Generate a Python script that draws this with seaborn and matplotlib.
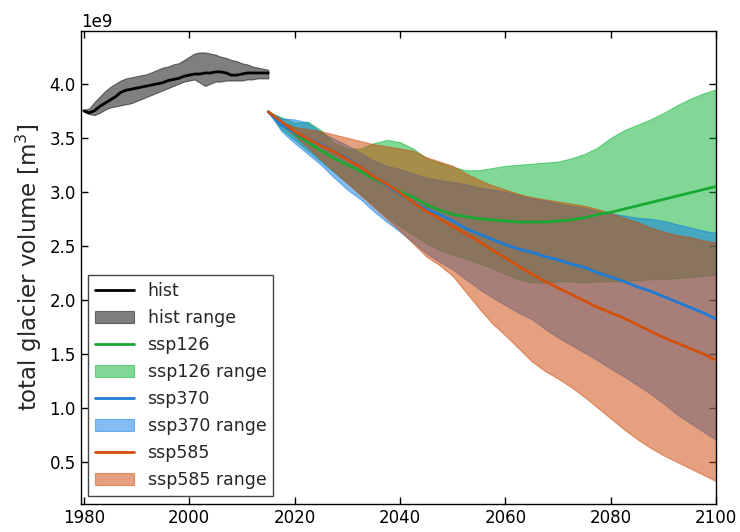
import numpy as np
import pandas as pd
import matplotlib
matplotlib.use("Agg")
import matplotlib.pyplot as plt
import seaborn as sns

# ---------------- data (values in 1e9 m^3) ----------------
hist_years = list(range(1980, 2016))
hist_mean = [3.75, 3.73, 3.75, 3.79, 3.82, 3.85, 3.88, 3.92, 3.94, 3.95, 3.96, 3.97,
             3.98, 3.99, 4.00, 4.01, 4.03, 4.04, 4.05, 4.07, 4.08, 4.09, 4.09, 4.10,
             4.10, 4.11, 4.11, 4.10, 4.08, 4.08, 4.09, 4.10, 4.10, 4.10, 4.10, 4.10]
hist_upper = [3.76, 3.77, 3.83, 3.88, 3.93, 3.97, 4.00, 4.03, 4.05, 4.06, 4.07, 4.08,
              4.09, 4.11, 4.13, 4.15, 4.16, 4.18, 4.19, 4.22, 4.25, 4.28, 4.29, 4.29,
              4.28, 4.27, 4.25, 4.24, 4.22, 4.21, 4.19, 4.18, 4.16, 4.15, 4.14, 4.13]
hist_lower = [3.74, 3.72, 3.71, 3.73, 3.76, 3.78, 3.79, 3.80, 3.81, 3.82, 3.84, 3.86,
              3.88, 3.90, 3.92, 3.94, 3.96, 3.98, 4.00, 4.02, 4.03, 4.04, 4.01, 3.98,
              4.00, 4.02, 4.02, 4.03, 4.03, 4.03, 4.03, 4.04, 4.04, 4.05, 4.05, 4.05]

proj_years = [2015, 2017.5, 2020, 2022.5, 2025, 2027.5, 2030, 2032.5, 2035, 2037.5,
              2040, 2042.5, 2045, 2047.5, 2050, 2052.5, 2055, 2057.5, 2060, 2062.5,
              2065, 2067.5, 2070, 2072.5, 2075, 2077.5, 2080, 2082.5, 2085, 2087.5,
              2090, 2092.5, 2095, 2097.5, 2100]

ssp126_mean = [3.74, 3.64, 3.54, 3.46, 3.38, 3.31, 3.25, 3.19, 3.12, 3.06,
               3.00, 2.95, 2.88, 2.83, 2.79, 2.77, 2.75, 2.74, 2.73, 2.72,
               2.72, 2.72, 2.73, 2.74, 2.76, 2.79, 2.81, 2.84, 2.87, 2.90,
               2.93, 2.96, 2.99, 3.02, 3.05]
ssp126_upper = [3.74, 3.69, 3.64, 3.65, 3.57, 3.45, 3.40, 3.40, 3.45, 3.48,
                3.46, 3.40, 3.31, 3.27, 3.23, 3.20, 3.20, 3.22, 3.24, 3.25,
                3.26, 3.27, 3.28, 3.31, 3.35, 3.41, 3.50, 3.57, 3.62, 3.67,
                3.73, 3.80, 3.86, 3.91, 3.95]
ssp126_lower = [3.74, 3.58, 3.48, 3.38, 3.28, 3.18, 3.08, 2.98, 2.88, 2.77,
                2.68, 2.60, 2.52, 2.46, 2.42, 2.38, 2.34, 2.29, 2.24, 2.19,
                2.16, 2.16, 2.17, 2.17, 2.16, 2.17, 2.17, 2.18, 2.18, 2.19,
                2.19, 2.20, 2.21, 2.22, 2.23]

ssp370_mean = [3.74, 3.62, 3.55, 3.49, 3.44, 3.37, 3.31, 3.23, 3.14, 3.06,
               2.98, 2.90, 2.84, 2.79, 2.73, 2.66, 2.61, 2.56, 2.51, 2.47,
               2.44, 2.40, 2.37, 2.33, 2.30, 2.25, 2.21, 2.17, 2.12, 2.08,
               2.03, 1.98, 1.93, 1.88, 1.82]
ssp370_upper = [3.74, 3.68, 3.67, 3.64, 3.55, 3.49, 3.43, 3.36, 3.29, 3.24,
                3.21, 3.17, 3.13, 3.11, 3.09, 3.07, 3.04, 3.02, 3.00, 2.97,
                2.94, 2.92, 2.89, 2.87, 2.85, 2.82, 2.80, 2.78, 2.76, 2.75,
                2.73, 2.70, 2.67, 2.64, 2.62]
ssp370_lower = [3.74, 3.56, 3.45, 3.35, 3.25, 3.13, 3.02, 2.93, 2.82, 2.72,
                2.63, 2.53, 2.43, 2.35, 2.28, 2.19, 2.10, 2.02, 1.95, 1.88,
                1.82, 1.73, 1.65, 1.58, 1.51, 1.44, 1.36, 1.29, 1.21, 1.13,
                1.04, 0.94, 0.86, 0.78, 0.70]

ssp585_mean = [3.74, 3.65, 3.56, 3.49, 3.43, 3.37, 3.30, 3.23, 3.14, 3.07,
               2.99, 2.90, 2.82, 2.75, 2.68, 2.61, 2.54, 2.46, 2.39, 2.31,
               2.24, 2.17, 2.11, 2.05, 1.99, 1.93, 1.88, 1.83, 1.77, 1.71,
               1.65, 1.60, 1.55, 1.50, 1.44]
ssp585_upper = [3.74, 3.65, 3.60, 3.58, 3.56, 3.53, 3.50, 3.47, 3.44, 3.42,
                3.40, 3.38, 3.32, 3.28, 3.24, 3.17, 3.11, 3.06, 3.02, 2.98,
                2.95, 2.93, 2.91, 2.89, 2.87, 2.84, 2.80, 2.76, 2.72, 2.67,
                2.63, 2.60, 2.58, 2.55, 2.53]
ssp585_lower = [3.74, 3.62, 3.52, 3.41, 3.30, 3.19, 3.08, 2.97, 2.86, 2.75,
                2.64, 2.52, 2.40, 2.32, 2.22, 2.07, 1.92, 1.78, 1.67, 1.55,
                1.43, 1.34, 1.27, 1.19, 1.10, 1.00, 0.90, 0.80, 0.71, 0.63,
                0.56, 0.50, 0.44, 0.38, 0.32]

scale = 1e9

# ---------------- style ----------------
sns.set_style("ticks")
plt.rcParams["font.family"] = ["DejaVu Sans"]
plt.rcParams["axes.edgecolor"] = "black"
plt.rcParams["axes.linewidth"] = 1.0

fig = plt.figure(figsize=(7.4, 5.32), dpi=100)
ax = fig.add_axes([0.109, 0.053, 0.859, 0.889])

series = [
    ("hist", hist_years, hist_mean, hist_lower, hist_upper, "black", "black"),
    ("ssp126", proj_years, ssp126_mean, ssp126_lower, ssp126_upper, "#1aa834", "#05b22e"),
    ("ssp370", proj_years, ssp370_mean, ssp370_lower, ssp370_upper, "#1f7bd4", "#0a7ae6"),
    ("ssp585", proj_years, ssp585_mean, ssp585_lower, ssp585_upper, "#d1500c", "#cd4400"),
]

for name, yrs, mean, lo, hi, lc, fc in series:
    df = pd.DataFrame({"year": yrs, "volume": np.array(mean) * scale})
    sns.lineplot(data=df, x="year", y="volume", color=lc, linewidth=2.0,
                 ax=ax, label=name, zorder=4)
    ax.fill_between(yrs, np.array(lo) * scale, np.array(hi) * scale,
                    color=fc, alpha=0.5, linewidth=0.8, label=name + " range",
                    zorder=2)

ax.set_xlim(1979.4, 2100)
ax.set_ylim(0.111e9, 4.49e9)
ax.set_xticks([1980, 2000, 2020, 2040, 2060, 2080, 2100])
ax.set_yticks(np.arange(0.5, 4.01, 0.5) * scale)
ax.set_xlabel("")
ax.set_ylabel("total glacier volume [m$^3$]", fontsize=16.5)
ax.tick_params(direction="in", top=True, right=True, labelsize=12,
               length=5, width=1, colors="black")
ax.yaxis.get_offset_text().set_fontsize(12)

leg = ax.legend(loc="lower left", fontsize=12.5, fancybox=False, framealpha=1,
                edgecolor="#444444", borderaxespad=0.45, handlelength=2.2,
                handletextpad=0.8, labelspacing=0.52)
leg.get_frame().set_linewidth(1.0)

fig.savefig("out.png", dpi=100)
